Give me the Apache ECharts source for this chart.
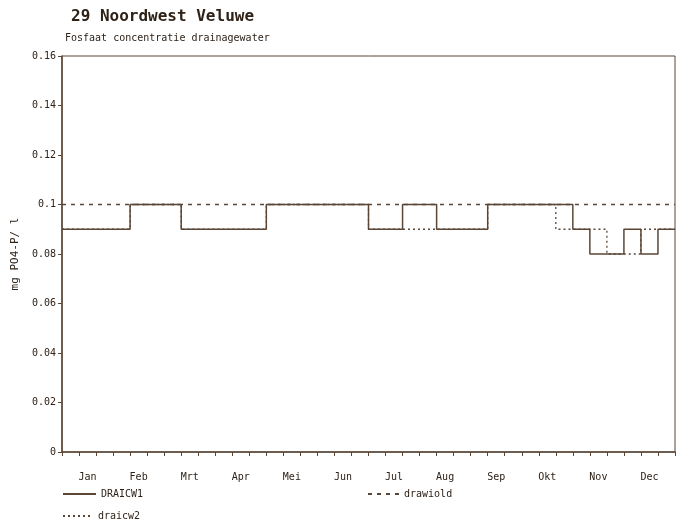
<!DOCTYPE html>
<html>
<head>
<meta charset="utf-8">
<script src="https://cdn.jsdelivr.net/npm/echarts@6/dist/echarts.min.js"></script>
<style>
html,body{margin:0;padding:0;background:#fff;}
#c{width:677px;height:524px;}
</style>
</head>
<body>
<div id="c"></div>
<script>
// Month labels (each month = 3 decades)
var months = ['Jan','Feb','Mrt','Apr','Mei','Jun','Jul','Aug','Sep','Okt','Nov','Dec'];
// y tick labels
var yTicks = ['0','0.02','0.04','0.06','0.08','0.1','0.12','0.14','0.16'];
// Values per decade (36 decades)
var draicw1 = [0.09,0.09,0.09,0.09, 0.1,0.1,0.1, 0.09,0.09,0.09,0.09,0.09,
               0.1,0.1,0.1,0.1,0.1,0.1, 0.09,0.09, 0.1,0.1, 0.09,0.09,0.09,
               0.1,0.1,0.1,0.1,0.1, 0.09, 0.08,0.08, 0.09, 0.08, 0.09];
var drawiold = [0.1,0.1,0.1,0.1,0.1,0.1,0.1,0.1,0.1,0.1,0.1,0.1,
                0.1,0.1,0.1,0.1,0.1,0.1,0.1,0.1,0.1,0.1,0.1,0.1,
                0.1,0.1,0.1,0.1,0.1,0.1,0.1,0.1,0.1,0.1,0.1,0.1];
var draicw2 = [0.09,0.09,0.09,0.09, 0.1,0.1,0.1, 0.09,0.09,0.09,0.09,0.09,
               0.1,0.1,0.1,0.1,0.1,0.1, 0.09,0.09, 0.09,0.09, 0.09,0.09,0.09,
               0.1,0.1,0.1,0.1, 0.09, 0.09, 0.09, 0.08, 0.08, 0.09, 0.09];

function toSteps(arr){
  var out = [];
  for (var i = 0; i < arr.length; i++) out.push([i, arr[i]]);
  out.push([arr.length, arr[arr.length-1]]);
  return out;
}

var ink = '#2e2218';
var lineCol = '#5a4636';
var mono = '"DejaVu Sans Mono", monospace';
var legText = {fontFamily: mono, fontSize: 10, color: ink};
var legItem = {opacity: 0, borderWidth: 0};

var chart = echarts.init(document.getElementById('c'));
chart.setOption({
  backgroundColor: '#ffffff',
  animation: false,
  title: [
    {text: '29 Noordwest Veluwe', left: 66, top: 4,
     textStyle: {fontFamily: mono, fontSize: 16, fontWeight: 'bold', color: ink}},
    {text: 'Fosfaat concentratie drainagewater', left: 60, top: 28,
     textStyle: {fontFamily: mono, fontSize: 10, fontWeight: 'normal', color: ink}}
  ],
  grid: {left: 62, right: 2, top: 56, bottom: 72, show: true,
         borderColor: lineCol, borderWidth: 1, backgroundColor: 'transparent'},
  legend: [
    {data: ['DRAICW1'], left: 62, top: 489, padding: 0, itemWidth: 33, itemHeight: 10,
     itemGap: 4, textStyle: legText, itemStyle: legItem},
    {data: ['drawiold'], left: 367, top: 489, padding: 0, itemWidth: 31, itemHeight: 10,
     textStyle: legText, itemStyle: legItem},
    {data: ['draicw2'], left: 62, top: 511, padding: 0, itemWidth: 30, itemHeight: 10,
     textStyle: legText, itemStyle: legItem}
  ],
  xAxis: [
    {type: 'value', min: 0, max: 36, interval: 1,
     axisLine: {show: true, lineStyle: {color: lineCol, width: 1.6}},
     axisTick: {show: true, length: 4, lineStyle: {color: lineCol}},
     axisLabel: {show: false}, splitLine: {show: false}},
    {type: 'category', data: months, position: 'bottom', boundaryGap: true,
     axisLine: {show: false}, axisTick: {show: false}, splitLine: {show: false},
     axisLabel: {margin: 20, fontFamily: mono, fontSize: 10, color: ink}}
  ],
  yAxis: {
    type: 'value', min: 0, max: 0.16, interval: 0.02,
    name: 'mg PO4-P/ l', nameLocation: 'middle', nameGap: 36, nameRotate: 90,
    nameTextStyle: {fontFamily: mono, fontSize: 11, color: ink},
    axisLine: {show: true, lineStyle: {color: lineCol, width: 1.5}},
    axisTick: {show: true, length: 4, lineStyle: {color: lineCol}},
    splitLine: {show: false},
    axisLabel: {fontFamily: mono, fontSize: 10, color: ink, margin: 6,
      formatter: function(v){ return yTicks[Math.round(v/0.02)]; }}
  },
  series: [
    {name: 'drawiold', type: 'line', xAxisIndex: 0, data: toSteps(drawiold),
     symbol: 'none', z: 1, color: lineCol,
     lineStyle: {color: lineCol, width: 1.6, type: [4, 5]}},
    {name: 'draicw2', type: 'line', xAxisIndex: 0, data: toSteps(draicw2), step: 'end',
     symbol: 'none', z: 2, color: lineCol,
     lineStyle: {color: lineCol, width: 1.3, type: [2, 3]}},
    {name: 'DRAICW1', type: 'line', xAxisIndex: 0, data: toSteps(draicw1), step: 'end',
     symbol: 'none', z: 3, color: lineCol,
     lineStyle: {color: lineCol, width: 1.5, type: 'solid'}}
  ]
});
</script>
</body>
</html>
